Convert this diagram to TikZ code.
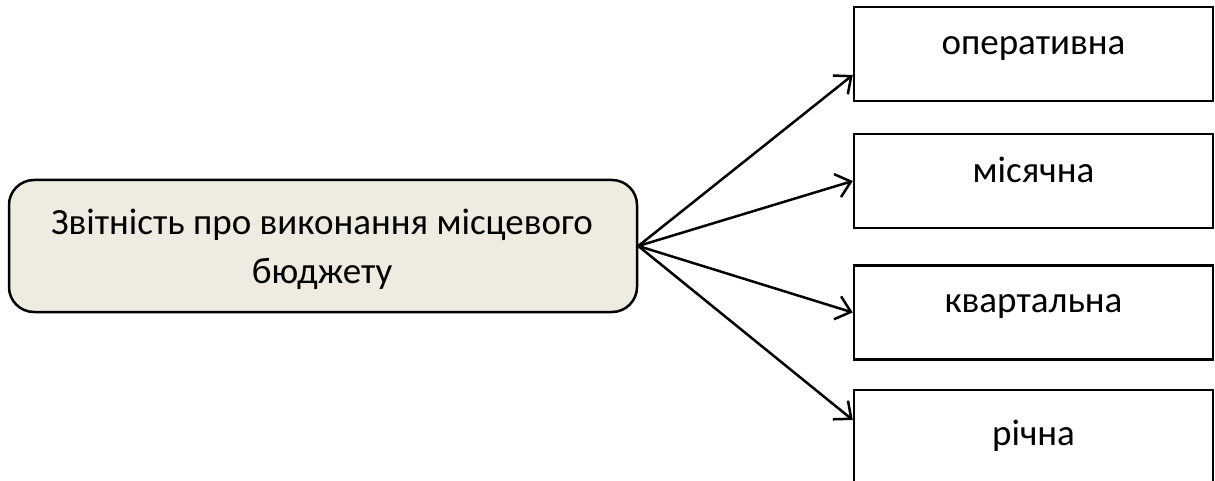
\documentclass[tikz,border=0pt]{standalone}
\usepackage{fontspec}
\setmainfont{Carlito}
\usetikzlibrary{arrows.meta}
\definecolor{beige}{RGB}{238,236,225}
\tikzset{
  rbox/.style={draw, line width=2.5pt, rectangle, minimum width=359pt, minimum height=94pt, inner sep=0pt},
  mainbox/.style={draw, line width=2.5pt, fill=beige, rounded corners=25pt, minimum width=628pt, minimum height=132pt, inner sep=0pt},
  txt/.style={anchor=base, inner sep=0pt, font=\fontsize{37}{49}\selectfont},
  conn/.style={line width=2.5pt, -{Straight Barb[length=14pt,width=24pt,line width=2.5pt]}}
}
\begin{document}
\begin{tikzpicture}[x=1pt,y=-1pt]
\clip (0,0) rectangle (1215,481);
\node[mainbox] (m) at (323,246) {};
\node[txt] (m1) at (322,234) {Звітність про виконання місцевого};
\node[txt] (m2) at (322,283) {бюджету};
\node[rbox] (b1) at (1033.5,54) {};
\node[rbox] (b2) at (1033.5,181) {};
\node[rbox] (b3) at (1033.5,312.5) {};
\node[rbox] (b4) at (1033.5,437) {};
\node[txt] (t1) at (1033.5,55) {оперативна};
\node[txt] (t2) at (1033.5,183) {місячна};
\node[txt] (t3) at (1033.5,312) {квартальна};
\node[txt] (t4) at (1033.5,445) {річна};
\coordinate (s) at (m.east);
\draw[conn] (s) -- ([yshift=-21pt]b1.west);
\draw[conn] (s) -- (b2.west);
\draw[conn] (s) -- (b3.west);
\draw[conn] (s) -- ([yshift=17pt]b4.west);
\end{tikzpicture}
\end{document}
